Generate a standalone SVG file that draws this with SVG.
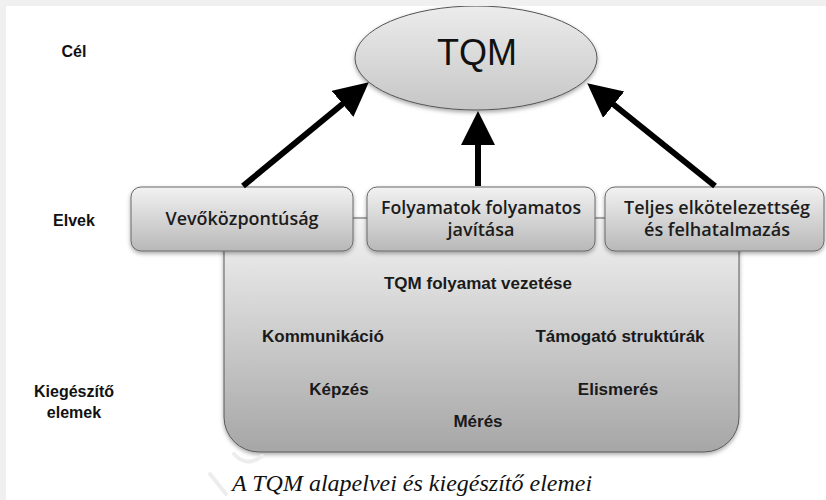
<svg xmlns="http://www.w3.org/2000/svg" width="826" height="500" viewBox="0 0 826 500">
  <defs>
    <linearGradient id="gEllipse" x1="0" y1="0" x2="0" y2="1">
      <stop offset="0" stop-color="#ececec"/>
      <stop offset="1" stop-color="#c6c6c6"/>
    </linearGradient>
    <linearGradient id="gBox" x1="0" y1="0" x2="0" y2="1">
      <stop offset="0" stop-color="#f2f2f2"/>
      <stop offset="1" stop-color="#b8b8b8"/>
    </linearGradient>
    <linearGradient id="gBase" x1="0" y1="0" x2="0" y2="1">
      <stop offset="0" stop-color="#f3f3f3"/>
      <stop offset="1" stop-color="#a6a6a6"/>
    </linearGradient>
    <filter id="shadow" x="-10%" y="-10%" width="120%" height="130%">
      <feDropShadow dx="0" dy="2" stdDeviation="2" flood-color="#000" flood-opacity="0.35"/>
    </filter>
    <marker id="head" markerUnits="userSpaceOnUse" markerWidth="36" markerHeight="36"
            refX="13" refY="17" orient="auto" viewBox="0 0 36 36">
      <path d="M0,0 L34,17 L0,34 z" fill="#000"/>
    </marker>
    <style>
      .lvl { font-family: "Liberation Sans", Arial, sans-serif; font-weight: bold; font-size: 16px; fill: #111; text-anchor: middle; }
      .item { font-family: "Liberation Sans", Arial, sans-serif; font-weight: bold; font-size: 17px; fill: #1a1a1a; text-anchor: middle; }
      .principle { font-family: "Open Sans", "Liberation Sans", sans-serif; font-weight: 600; font-size: 18px; fill: #1c1c1c; text-anchor: middle; }
      .box { fill: url(#gBox); stroke: #6a6a6a; stroke-width: 1; filter: url(#shadow); }
      .conn { stroke: #000; stroke-width: 6; fill: none; marker-end: url(#head); }
    </style>
  </defs>

  <!-- page -->
  <rect x="0" y="0" width="826" height="500" fill="#ffffff"/>

  <!-- level labels -->
  <g id="level-labels">
    <text class="lvl" x="74" y="57">Cél</text>
    <text class="lvl" x="74" y="226">Elvek</text>
    <text class="lvl" x="74" y="397">Kiegészítő</text>
    <text class="lvl" x="74" y="418">elemek</text>
  </g>

  <!-- supporting elements base -->
  <g id="supporting-elements">
    <path d="M224,218 H739 V417 A35,35 0 0 1 704,452 H259 A35,35 0 0 1 224,417 Z"
          fill="url(#gBase)" stroke="#5a5a5a" stroke-width="1" filter="url(#shadow)"/>
    <text class="item" x="478" y="289">TQM folyamat vezetése</text>
    <text class="item" x="323" y="342">Kommunikáció</text>
    <text class="item" x="620" y="342">Támogató struktúrák</text>
    <text class="item" x="339" y="395">Képzés</text>
    <text class="item" x="618" y="395">Elismerés</text>
    <text class="item" x="478" y="427">Mérés</text>
  </g>

  <!-- goal -->
  <g id="goal-tqm">
    <ellipse cx="476" cy="58" rx="121" ry="52" fill="url(#gEllipse)" stroke="#555" stroke-width="1" filter="url(#shadow)"/>
    <text x="477" y="65" font-family="'Liberation Sans', Arial, sans-serif" font-size="36" fill="#111" text-anchor="middle">TQM</text>
  </g>

  <!-- principles -->
  <g id="principle-customer">
    <rect class="box" x="131" y="187" width="222" height="64" rx="10"/>
    <text class="principle" x="242" y="225" textLength="153" lengthAdjust="spacingAndGlyphs">Vevőközpontúság</text>
  </g>
  <g id="principle-improvement">
    <rect class="box" x="367" y="187" width="228" height="64" rx="10"/>
    <text class="principle" x="481" y="214" textLength="200" lengthAdjust="spacingAndGlyphs">Folyamatok folyamatos</text>
    <text class="principle" x="481" y="236">javítása</text>
  </g>
  <g id="principle-commitment">
    <rect class="box" x="605" y="187" width="219" height="64" rx="10"/>
    <text class="principle" x="717" y="214" textLength="186" lengthAdjust="spacingAndGlyphs">Teljes elkötelezettség</text>
    <text class="principle" x="717" y="236" textLength="146" lengthAdjust="spacingAndGlyphs">és felhatalmazás</text>
  </g>

  <!-- connectors -->
  <g id="connectors">
    <line class="conn" x1="243" y1="186" x2="352.6" y2="95.7"/>
    <line class="conn" x1="478" y1="186" x2="478" y2="132"/>
    <line class="conn" x1="715" y1="186" x2="603.6" y2="96.5"/>
  </g>

  <!-- faint watermark strokes -->
  <g id="watermark" fill="none" stroke="#ededed" stroke-width="4" stroke-linecap="round">
    <path d="M234,454 Q247,468 262,456"/>
    <path d="M210,474 L226,494"/>
  </g>

  <!-- caption -->
  <text x="232" y="491" font-family="'Liberation Serif', 'Times New Roman', serif" font-style="italic" font-size="24" fill="#111">A TQM alapelvei és kiegészítő elemei</text>

  <!-- page frame -->
  <rect x="0" y="0" width="826" height="6" fill="#f0f0f0"/>
  <rect x="0" y="0" width="6" height="500" fill="#f0f0f0"/>
</svg>
